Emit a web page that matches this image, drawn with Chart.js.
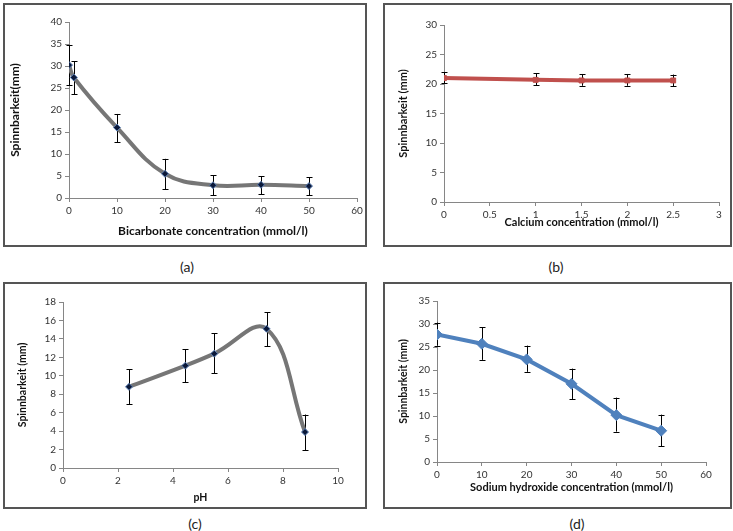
<!DOCTYPE html>
<html>
<head>
<meta charset="utf-8">
<script src="https://cdn.jsdelivr.net/npm/chart.js@4"></script>
<style>
  body { margin: 0; background: #fff; }
  #page { position: relative; width: 733px; height: 531px; background: #fff; overflow: hidden; }
  .panel { position: absolute; box-sizing: border-box; border: 2px solid #555; }
  canvas { position: absolute; }
  .lettre { position: absolute; font-family: Lato, "Liberation Sans", sans-serif; font-size: 14px; color: #222; transform: translate(-50%, -50%); }
</style>
</head>
<body>
<div id="page">
  <div class="panel" style="left:3px;top:3px;width:364px;height:244px"></div>
  <div class="panel" style="left:383px;top:3px;width:349px;height:244px"></div>
  <div class="panel" style="left:3px;top:282px;width:364px;height:227px"></div>
  <div class="panel" style="left:383px;top:282px;width:349px;height:227px"></div>
  <canvas id="ga" width="364" height="244" style="left:3px;top:3px"></canvas>
  <canvas id="gb" width="349" height="244" style="left:383px;top:3px"></canvas>
  <canvas id="gc" width="364" height="227" style="left:3px;top:282px"></canvas>
  <canvas id="gd" width="349" height="227" style="left:383px;top:282px"></canvas>
  <div class="lettre" style="left:187px;top:266px">(a)</div>
  <div class="lettre" style="left:556px;top:266px">(b)</div>
  <div class="lettre" style="left:195px;top:523px">(c)</div>
  <div class="lettre" style="left:577px;top:523px">(d)</div>
</div>
<script>
// (a) bicarbonate
const bicarbX = [0, 1, 10, 20, 30, 40, 50];
const bicarbY = [30.2, 27.4, 16, 5.5, 2.9, 3.0, 2.7];
const bicarbHaut = [34.8, 31.1, 19.1, 8.9, 5.2, 4.9, 4.7];
const bicarbBas = [25.6, 23.6, 12.7, 2.0, 0.6, 0.9, 0.6];

// (b) calcium
const calciumX = [0, 1, 1.5, 2, 2.5];
const calciumY = [21.0, 20.7, 20.6, 20.6, 20.6];
const calciumHaut = [22.0, 21.8, 21.7, 21.7, 21.6];
const calciumBas = [20.1, 19.8, 19.7, 19.7, 19.6];

// (c) pH
const phX = [2.4, 4.45, 5.5, 7.4, 8.8];
const phY = [8.8, 11.1, 12.4, 15.1, 3.9];
const phHaut = [10.7, 12.9, 14.6, 16.9, 5.8];
const phBas = [6.9, 9.3, 10.3, 13.2, 1.95];

// (d) sodium hydroxide
const naohX = [0, 10, 20, 30, 40, 50];
const naohY = [27.7, 25.7, 22.3, 17.0, 10.2, 6.8];
const naohHaut = [30.3, 29.3, 25.3, 20.3, 14.0, 10.3];
const naohBas = [25.3, 22.2, 19.6, 13.7, 6.6, 3.4];

const police = "Lato, 'Liberation Sans', sans-serif";

// error bars drawn with the chart's own scales
const barresErreur = {
    id: 'barresErreur',
    beforeDatasetsDraw(chart, args, opts) {
        const ctx = chart.ctx;
        const sx = chart.scales.x;
        const sy = chart.scales.y;
        ctx.save();
        ctx.strokeStyle = '#000';
        ctx.lineWidth = 1;
        opts.x.forEach((v, i) => {
            const px = Math.round(sx.getPixelForValue(v)) + 0.5;
            const hy = sy.getPixelForValue(opts.haut[i]);
            const by = sy.getPixelForValue(opts.bas[i]);
            ctx.beginPath();
            ctx.moveTo(px, hy);
            ctx.lineTo(px, by);
            ctx.moveTo(px - 3, Math.round(hy) + 0.5);
            ctx.lineTo(px + 3, Math.round(hy) + 0.5);
            ctx.moveTo(px - 3, Math.round(by) + 0.5);
            ctx.lineTo(px + 3, Math.round(by) + 0.5);
            ctx.stroke();
        });
        ctx.restore();
    }
};

function creerGraphique(id, c) {
    const points = c.x.map((v, i) => ({ x: v, y: c.y[i] }));
    const axe = (min, max, pas, titre, taille, titrePad) => ({
        type: 'linear',
        min: min,
        max: max,
        ticks: {
            stepSize: pas,
            color: '#333',
            font: { family: police, size: 10 },
            padding: 3,
            callback: (v) => String(v)
        },
        grid: { display: true, drawOnChartArea: false, tickLength: 4, color: '#868686' },
        border: { color: '#868686' },
        title: { display: true, text: titre, color: '#111', font: { family: police, size: taille, weight: 'bold' }, padding: titrePad }
    });
    const ax = axe(c.xMin, c.xMax, c.xPas, c.xTitre, c.xTaille, { top: 0, bottom: c.xTitrePad });
    const ay = axe(0, c.yMax, c.yPas, c.yTitre, c.yTaille, { top: c.yTitrePad, bottom: 0 });
    ax.afterFit = (s) => { s.height = c.bas; };
    ay.afterFit = (s) => { s.width = c.gauche; };
    new Chart(document.getElementById(id), {
        type: 'scatter',
        data: {
            datasets: [{
                data: points,
                showLine: true,
                borderColor: c.couleur,
                borderWidth: c.epaisseur,
                tension: c.tension,
                pointStyle: c.forme,
                pointRadius: c.rayon,
                pointBackgroundColor: c.remplissage,
                pointBorderColor: c.contour,
                pointBorderWidth: 1
            }]
        },
        options: {
            responsive: false,
            animation: false,
            layout: { padding: { left: 0, right: c.droite, top: c.haut, bottom: 0 } },
            scales: { x: ax, y: ay },
            plugins: {
                legend: { display: false },
                tooltip: { enabled: false },
                barresErreur: { x: c.x, haut: c.errHaut, bas: c.errBas }
            }
        },
        plugins: [barresErreur]
    });
}

creerGraphique('ga', {
    x: bicarbX, y: bicarbY, errHaut: bicarbHaut, errBas: bicarbBas,
    xMin: 0, xMax: 60, xPas: 10, yMax: 40, yPas: 5,
    xTitre: 'Bicarbonate concentration (mmol/l)', yTitre: 'Spinnbarkeit(mm)',
    xTaille: 12, yTaille: 12, xTitrePad: 9, yTitrePad: 5,
    gauche: 66, droite: 10, haut: 19, bas: 49,
    couleur: '#767676', epaisseur: 4, tension: 0.4,
    forme: 'rectRot', rayon: 3.5, remplissage: '#0b1838', contour: '#5b7fb5'
});

creerGraphique('gb', {
    x: calciumX, y: calciumY, errHaut: calciumHaut, errBas: calciumBas,
    xMin: 0, xMax: 3, xPas: 0.5, yMax: 30, yPas: 5,
    xTitre: 'Calcium concentration (mmol/l)', yTitre: 'Spinnbarkeit (mm)',
    xTaille: 11, yTaille: 11, xTitrePad: 18, yTitrePad: 14,
    gauche: 61, droite: 13, haut: 22, bas: 45,
    couleur: '#c0504d', epaisseur: 4, tension: 0,
    forme: 'rect', rayon: 3.5, remplissage: '#c0504d', contour: '#c0504d'
});

creerGraphique('gc', {
    x: phX, y: phY, errHaut: phHaut, errBas: phBas,
    xMin: 0, xMax: 10, xPas: 2, yMax: 18, yPas: 2,
    xTitre: 'pH', yTitre: 'Spinnbarkeit (mm)',
    xTaille: 10.5, yTaille: 10.5, xTitrePad: 5, yTitrePad: 13.5,
    gauche: 60, droite: 29, haut: 20, bas: 41,
    couleur: '#767676', epaisseur: 4, tension: 0.4,
    forme: 'rectRot', rayon: 3.5, remplissage: '#0b1838', contour: '#5b7fb5'
});

creerGraphique('gd', {
    x: naohX, y: naohY, errHaut: naohHaut, errBas: naohBas,
    xMin: 0, xMax: 60, xPas: 10, yMax: 35, yPas: 5,
    xTitre: 'Sodium hydroxide concentration (mmol/l)', yTitre: 'Spinnbarkeit (mm)',
    xTaille: 11, yTaille: 10.5, xTitrePad: 15, yTitrePad: 14.5,
    gauche: 54, droite: 26, haut: 19, bas: 47,
    couleur: '#4f81bd', epaisseur: 4, tension: 0,
    forme: 'rectRot', rayon: 5.5, remplissage: '#4f81bd', contour: '#4f81bd'
});
</script>
</body>
</html>
